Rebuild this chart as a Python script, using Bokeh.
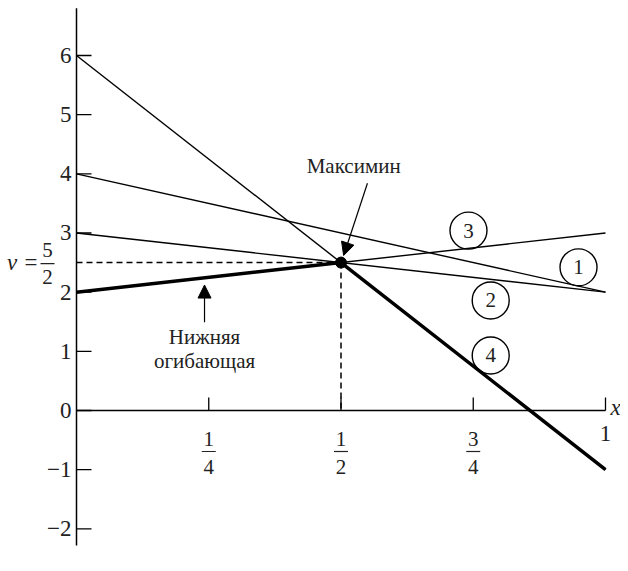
import numpy as np
from bokeh.plotting import figure
from bokeh.models import Arrow, NormalHead, Range1d
from bokeh.core.properties import value
from bokeh.embed import file_html
from bokeh.resources import INLINE

# ---- data ----
strategies = ["1", "2", "3", "4"]
val_at_0 = [4, 3, 2, 6]
val_at_1 = [2, 2, 3, -1]
env_x = [0, 0.5, 1]
env_y = [2, 2.5, -1]
maximin_x = 0.5
maximin_v = 2.5
y_ticks = [-2, -1, 0, 1, 2, 3, 4, 5, 6]
y_tick_labels = ["\u22122", "\u22121", "0", "1", "2", "3", "4", "5", "6"]
x_ticks = [0.25, 0.5, 0.75, 1.0]
x_frac_num = ["1", "1", "3"]
x_frac_den = ["4", "2", "4"]
circle_x = [0.949, 0.783, 0.741, 0.783]
circle_y = [2.42, 1.86, 3.04, 0.93]

W, H = 620, 563
PX = 529.0
PY = 59.17
x0px, y0px = 76, 410


def F():
    return value("Liberation Serif")


p = figure(width=W, height=H, output_backend="svg", toolbar_location=None,
           x_range=Range1d(-x0px / PX, (W - x0px) / PX),
           y_range=Range1d(-(H - y0px) / PY, y0px / PY),
           min_border=0, outline_line_color=None)
p.axis.visible = False
p.grid.visible = False

# ---- texts first ----
p.text(x=[0] * len(y_ticks), y=y_ticks, text=y_tick_labels, x_offset=-5,
       text_align="right", text_baseline="middle", text_font=F(),
       text_font_size="23px", text_color="#222")
fx = x_ticks[:3]
p.text(x=fx, y=[0] * 3, text=x_frac_num, y_offset=28, text_align="center",
       text_baseline="middle", text_font=F(), text_font_size="21px", text_color="#222")
p.text(x=fx, y=[0] * 3, text=x_frac_den, y_offset=56, text_align="center",
       text_baseline="middle", text_font=F(), text_font_size="21px", text_color="#222")
p.text(x=[1.0], y=[0], text=["1"], y_offset=23, text_align="center",
       text_baseline="middle", text_font=F(), text_font_size="23px", text_color="#222")
p.text(x=[1.0], y=[0], text=["x"], x_offset=5, y_offset=-3, text_align="left",
       text_baseline="middle", text_font=F(), text_font_style="italic",
       text_font_size="23px", text_color="#222")
p.text(x=[0], y=[maximin_v], text=["v ="], x_offset=-38, text_align="right",
       text_baseline="middle", text_font=F(), text_font_style="italic",
       text_font_size="23px", text_color="#222")
p.text(x=[0], y=[maximin_v], text=["5"], x_offset=-29, y_offset=-13, text_align="center",
       text_baseline="middle", text_font=F(), text_font_size="21px", text_color="#222")
p.text(x=[0], y=[maximin_v], text=["2"], x_offset=-29, y_offset=14, text_align="center",
       text_baseline="middle", text_font=F(), text_font_size="21px", text_color="#222")
p.text(circle_x, circle_y, text=strategies, text_align="center", text_baseline="middle",
       text_font=F(), text_font_size="21px", text_color="#222")
p.text(x=[0.524], y=[4.14], text=["Максимин"], text_align="center", text_baseline="middle",
       text_font=F(), text_font_size="21px", text_color="#222")
p.text(x=[0.242, 0.242], y=[1.25, 0.845], text=["Нижняя", "огибающая"], text_align="center",
       text_baseline="middle", text_font=F(), text_font_size="21px", text_color="#222")

# ---- axes ----
p.segment(x0=[0], y0=[-2.28], x1=[0], y1=[6.8], line_color="black", line_width=1.5)
p.segment(x0=[0], y0=[0], x1=[1], y1=[0], line_color="black", line_width=1.5)
p.ray(x=[0] * len(y_ticks), y=y_ticks, length=15, length_units="screen", angle=0,
      line_color="black", line_width=1.3)
p.ray(x=x_ticks, y=[0] * len(x_ticks), length=13, length_units="screen", angle=np.pi / 2,
      line_color="black", line_width=1.3)
p.segment(x0=[v - 7 / PX for v in fx], y0=[-41 / PY] * 3,
          x1=[v + 7 / PX for v in fx], y1=[-41 / PY] * 3, line_color="#222", line_width=1.2)
p.segment(x0=[-36 / PX], y0=[maximin_v - 1 / PY], x1=[-22 / PX], y1=[maximin_v - 1 / PY],
          line_color="#222", line_width=1.2)

# strategy lines
p.segment(x0=[0] * 4, y0=val_at_0, x1=[1] * 4, y1=val_at_1, line_color="black", line_width=1.4)
# lower envelope
p.line(env_x, env_y, line_color="black", line_width=3.5)

# dashed guides
p.segment(x0=[0, maximin_x], y0=[maximin_v, maximin_v], x1=[maximin_x, maximin_x], y1=[maximin_v, 0],
          line_color="black", line_width=1.5, line_dash="6 4")
p.scatter([maximin_x], [maximin_v], size=11, color="black")

# circled labels
p.scatter(circle_x, circle_y, size=37, marker="circle", fill_color=None,
          line_color="black", line_width=1.4)

# arrows
p.add_layout(Arrow(end=NormalHead(size=13, fill_color="black", line_color="black", line_width=1),
                   x_start=0.550, y_start=3.84, x_end=0.505, y_end=2.62,
                   line_color="black", line_width=1.2))
p.add_layout(Arrow(end=NormalHead(size=13, fill_color="black", line_color="black", line_width=1),
                   x_start=0.242, y_start=1.49, x_end=0.242, y_end=2.12,
                   line_color="black", line_width=1.2))

open("out.html", "w").write(file_html(p, INLINE))
